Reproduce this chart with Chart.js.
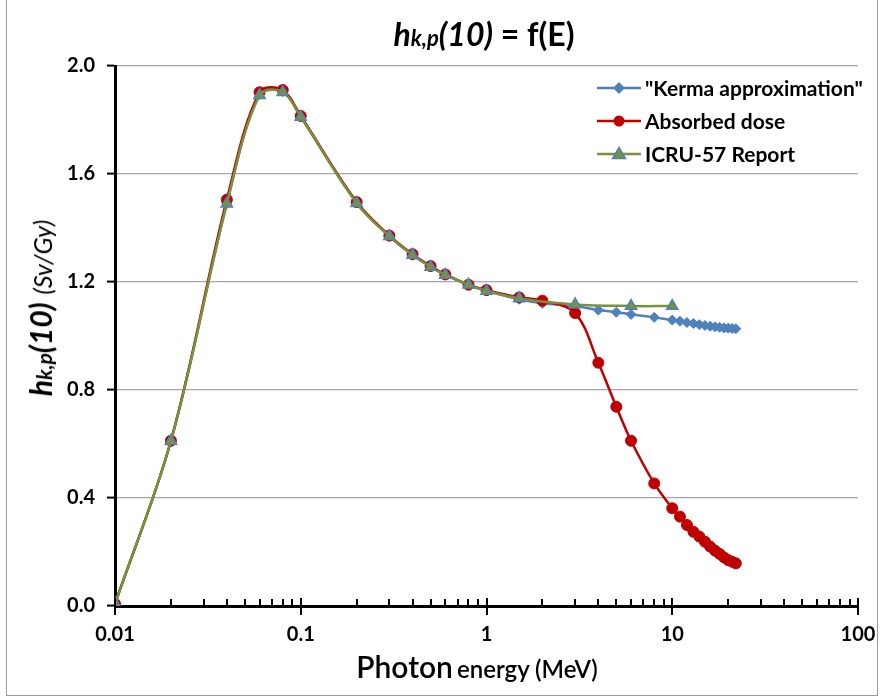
<!DOCTYPE html>
<html>
<head>
<meta charset="utf-8">
<script src="https://cdn.jsdelivr.net/npm/chart.js@4.4.1/dist/chart.umd.min.js"></script>
<style>
  html, body { margin: 0; padding: 0; background: #fff; }
  #wrap { position: relative; width: 884px; height: 698px; font-family: Lato, "Open Sans", sans-serif; color: #000; }
  #frame { position: absolute; left: 6px; top: 0; width: 872px; height: 696px; border: 1px solid #9a9a9a; border-top: none; box-sizing: border-box; }
  canvas { position: absolute; left: 0; top: 0; }
  .title { position: absolute; top: 14px; left: 0; width: 968px; text-align: center; font-size: 32px; font-weight: bold; white-space: nowrap; }
  .title i { font-style: italic; }
  .sub { font-size: 22px; }
  .ytitle { position: absolute; left: 40px; top: 308px; transform: translate(-50%, -50%) rotate(-90deg); white-space: nowrap; font-size: 30px; }
  .xtitle { position: absolute; top: 648px; left: 0; width: 954px; text-align: center; white-space: nowrap; font-weight: 600; }
  #legend { position: absolute; left: 597px; top: 71px; font-size: 21px; font-weight: bold; }
  #legend div { height: 33px; display: flex; align-items: center; }
  #legend svg { margin-right: 4px; }
</style>
</head>
<body>
<div id="wrap">
  <div id="frame"></div>
  <canvas id="chart" width="884" height="698"></canvas>
  <div class="title"><i>h<span class="sub">k,p</span>(10)</i> = f(E)</div>
  <div class="ytitle"><b><i>h<span style="font-size:21px">k,p</span>(10)</i></b> <i style="font-size:25px">(Sv/Gy)</i></div>
  <div class="xtitle"><span style="font-size:30px">Photon</span> <span style="font-size:24px">energy (MeV)</span></div>
  <div id="legend"></div>
</div>
<script>
// photon energies (MeV) and conversion coefficients hk,p(10) (Sv/Gy)
const kermaE = [0.01, 0.02, 0.04, 0.06, 0.08, 0.1, 0.2, 0.3, 0.4, 0.5, 0.6, 0.8, 1, 1.5, 2, 3, 4, 5, 6, 8, 10,
  11, 12, 13, 14, 15, 16, 17, 18, 19, 20, 21, 22];
const kermaH = [0.008, 0.611, 1.49, 1.895, 1.905, 1.812, 1.493, 1.369, 1.300, 1.257, 1.227, 1.189, 1.167, 1.136,
  1.121, 1.111, 1.096, 1.088, 1.080, 1.069, 1.059, 1.055, 1.050, 1.046, 1.042, 1.039, 1.036, 1.034, 1.032,
  1.030, 1.029, 1.028, 1.027];

const doseE = kermaE;
const doseH = [0.008, 0.612, 1.505, 1.903, 1.911, 1.815, 1.496, 1.372, 1.303, 1.259, 1.228, 1.190, 1.170, 1.143,
  1.131, 1.085, 0.901, 0.738, 0.612, 0.454, 0.362, 0.331, 0.300, 0.275, 0.257, 0.238, 0.220, 0.205, 0.193,
  0.180, 0.170, 0.164, 0.158];

const icruE = [0.01, 0.02, 0.04, 0.06, 0.08, 0.1, 0.2, 0.3, 0.4, 0.5, 0.6, 0.8, 1, 1.5, 3, 6, 10];
const icruH = [0.008, 0.611, 1.49, 1.892, 1.903, 1.811, 1.492, 1.369, 1.300, 1.256, 1.226, 1.190, 1.167, 1.139,
  1.117, 1.111, 1.111];

const xTicks = [0.01, 0.1, 1, 10, 100];
const xTickLabels = ['0.01', '0.1', '1', '10', '100'];

const BLUE = '#4f81bd', RED = '#c00000', GREEN = '#77933c';

const pts = (xs, ys) => xs.map((x, i) => ({ x, y: ys[i] }));

// log axis ticks: decades cross the axis, minor ticks stand inside
const logTicks = {
  id: 'logTicks',
  afterDatasetsDraw(chart) {
    const x = chart.scales.x, ctx = chart.ctx, y0 = chart.chartArea.bottom;
    ctx.save();
    ctx.strokeStyle = '#000';
    ctx.lineWidth = 2;
    ctx.beginPath();
    xTicks.forEach((d, i) => {
      const px = Math.round(x.getPixelForValue(d));
      ctx.moveTo(px, y0 - 8); ctx.lineTo(px, y0 + 9);
      if (i === xTicks.length - 1) return;
      for (let k = 2; k <= 9; k++) {
        const mx = Math.round(x.getPixelForValue(k * d));
        ctx.moveTo(mx, y0); ctx.lineTo(mx, y0 - 7);
      }
    });
    ctx.stroke();
    ctx.restore();
  }
};

const tickFont = { family: 'Lato', size: 20, weight: 'bold' };

new Chart(document.getElementById('chart'), {
  type: 'line',
  data: {
    datasets: [
      {
        label: '"Kerma approximation"', data: pts(kermaE, kermaH), order: 3,
        borderColor: BLUE, backgroundColor: BLUE, borderWidth: 2.5,
        pointStyle: 'rectRot', pointRadius: 5, pointBorderWidth: 1,
      },
      {
        label: 'Absorbed dose', data: pts(doseE, doseH), order: 2,
        borderColor: RED, backgroundColor: RED, borderWidth: 2.5,
        pointStyle: 'circle', pointRadius: 5.5, pointBorderWidth: 1,
      },
      {
        label: 'ICRU-57 Report', data: pts(icruE, icruH), order: 1,
        borderColor: GREEN, backgroundColor: GREEN, borderWidth: 2.5,
        pointStyle: 'triangle', pointRadius: 6.5, pointBorderColor: BLUE, pointBorderWidth: 1.5,
      },
    ],
  },
  options: {
    responsive: false,
    animation: false,
    layout: { padding: { left: 0, top: 66, right: 26, bottom: 0 } },
    elements: { line: { tension: 0.35, fill: false } },
    plugins: { legend: { display: false }, tooltip: { enabled: false } },
    scales: {
      x: {
        type: 'logarithmic', min: 0.01, max: 100,
        afterBuildTicks: (s) => { s.ticks = xTicks.map((v) => ({ value: v })); },
        afterFit: (s) => { s.height = 92; s.paddingRight = 0; s.paddingLeft = 0; },
        grid: { display: false, drawTicks: false },
        border: { display: true, color: '#000', width: 3 },
        ticks: {
          autoSkip: false, maxRotation: 0, padding: 17, color: '#000', font: tickFont,
          callback: (v) => xTickLabels[xTicks.indexOf(v)] ?? '',
        },
      },
      y: {
        min: 0, max: 2.0,
        afterFit: (s) => { s.width = 115; s.paddingTop = 0; s.paddingBottom = 0; },
        grid: { color: '#a6a6a6', lineWidth: 1.2, tickColor: '#000', tickWidth: 2, tickLength: 8 },
        border: { display: true, color: '#000', width: 3 },
        ticks: { stepSize: 0.4, padding: 12, color: '#000', font: tickFont, callback: (v) => v.toFixed(1) },
      },
    },
  },
  plugins: [logTicks],
});

// legend: line sample with the series marker, then the name
const legendItems = [
  { label: '"Kerma approximation"', color: BLUE, marker: '<polygon points="22,3 28,9 22,15 16,9" fill="' + BLUE + '"/>' },
  { label: 'Absorbed dose', color: RED, marker: '<circle cx="22" cy="9" r="5.5" fill="' + RED + '"/>' },
  { label: 'ICRU-57 Report', color: GREEN, marker: '<polygon points="22,2.5 28.5,13.5 15.5,13.5" fill="' + GREEN + '" stroke="' + BLUE + '" stroke-width="1.5"/>' },
];
document.getElementById('legend').innerHTML = legendItems.map((it) =>
  '<div><svg width="44" height="18"><line x1="0" y1="9" x2="44" y2="9" stroke="' + it.color + '" stroke-width="2.5"/>' +
  it.marker + '</svg><span>' + it.label + '</span></div>').join('');
</script>
</body>
</html>
